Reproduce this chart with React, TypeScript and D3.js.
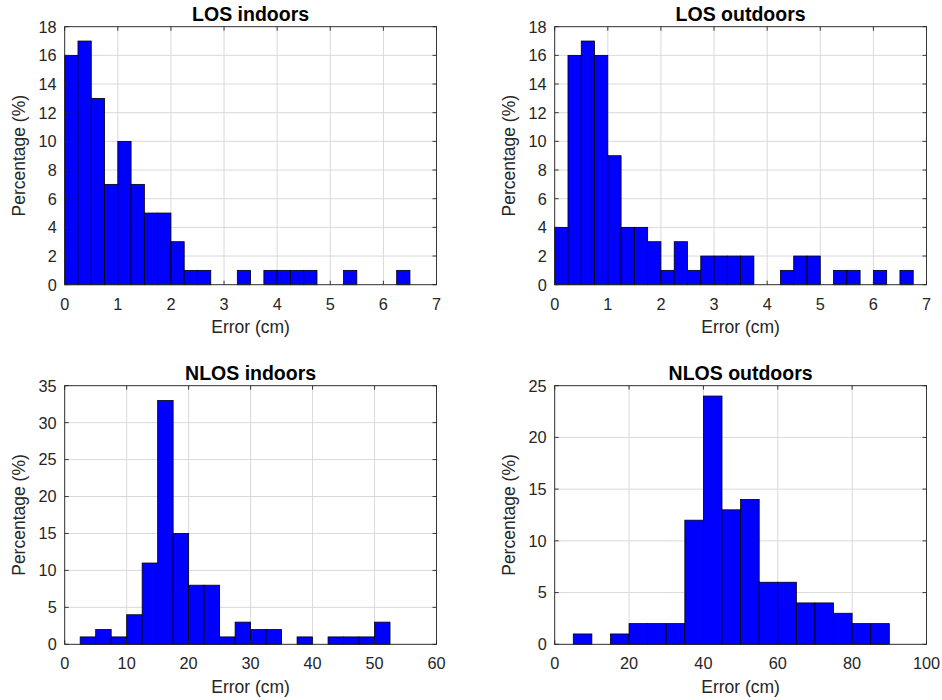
import React from "react";
import * as d3 from "d3";

// ---- Data (percentages per histogram bin) ----
const losIndoorsCounts = [16, 17, 13, 7, 10, 7, 5, 5, 3, 1, 1, 0, 0, 1, 0, 1, 1, 1, 1, 0, 0, 1, 0, 0, 0, 1];
const losIndoorsBinStart = 0;
const losIndoorsBinWidth = 0.25;

const losOutdoorsCounts = [4, 16, 17, 16, 9, 4, 4, 3, 1, 3, 1, 2, 2, 2, 2, 0, 0, 1, 2, 2, 0, 1, 1, 0, 1, 0, 1];
const losOutdoorsBinStart = 0;
const losOutdoorsBinWidth = 0.25;

const nlosIndoorsCounts = [1, 2, 1, 4, 11, 33, 15, 8, 8, 1, 3, 2, 2, 0, 1, 0, 1, 1, 1, 3];
const nlosIndoorsBinStart = 2.5;
const nlosIndoorsBinWidth = 2.5;

const nlosOutdoorsCounts = [1, 0, 1, 2, 2, 2, 12, 24, 13, 14, 6, 6, 4, 4, 3, 2, 2];
const nlosOutdoorsBinStart = 5;
const nlosOutdoorsBinWidth = 5;

const titles = ["LOS indoors", "LOS outdoors", "NLOS indoors", "NLOS outdoors"];
const xTicksLos = [0, 1, 2, 3, 4, 5, 6, 7];
const yTicksLos = [0, 2, 4, 6, 8, 10, 12, 14, 16, 18];
const xTicksNlosIn = [0, 10, 20, 30, 40, 50, 60];
const yTicksNlosIn = [0, 5, 10, 15, 20, 25, 30, 35];
const xTicksNlosOut = [0, 20, 40, 60, 80, 100];
const yTicksNlosOut = [0, 5, 10, 15, 20, 25];
const xLabel = "Error (cm)";
const yLabel = "Percentage (%)";

type Panel = {
  title: string;
  counts: number[];
  binStart: number;
  binWidth: number;
  xTicks: number[];
  yTicks: number[];
  box: { x0: number; x1: number; y0: number; y1: number };
};

const panels: Panel[] = [
  { title: titles[0], counts: losIndoorsCounts, binStart: losIndoorsBinStart, binWidth: losIndoorsBinWidth, xTicks: xTicksLos, yTicks: yTicksLos, box: { x0: 64.7, x1: 436.5, y0: 26.7, y1: 284.7 } },
  { title: titles[1], counts: losOutdoorsCounts, binStart: losOutdoorsBinStart, binWidth: losOutdoorsBinWidth, xTicks: xTicksLos, yTicks: yTicksLos, box: { x0: 554.7, x1: 926.5, y0: 26.7, y1: 284.7 } },
  { title: titles[2], counts: nlosIndoorsCounts, binStart: nlosIndoorsBinStart, binWidth: nlosIndoorsBinWidth, xTicks: xTicksNlosIn, yTicks: yTicksNlosIn, box: { x0: 64.7, x1: 436.5, y0: 385.7, y1: 644.3 } },
  { title: titles[3], counts: nlosOutdoorsCounts, binStart: nlosOutdoorsBinStart, binWidth: nlosOutdoorsBinWidth, xTicks: xTicksNlosOut, yTicks: yTicksNlosOut, box: { x0: 554.7, x1: 926.5, y0: 385.7, y1: 644.3 } },
];

const FONT = "Arial, 'Liberation Sans', Helvetica, sans-serif";
const AXIS_COLOR = "#262626";
const GRID_COLOR = "#d9d9d9";

function HistPanel({ p }: { p: Panel }) {
  const { x0, x1, y0, y1 } = p.box;
  const x = d3.scaleLinear().domain(d3.extent(p.xTicks) as [number, number]).range([x0, x1]);
  const y = d3.scaleLinear().domain(d3.extent(p.yTicks) as [number, number]).range([y1, y0]);
  const tickLen = 4;
  return (
    <g>
      {/* grid */}
      {p.xTicks.map((t) => (
        <line key={"gx" + t} x1={x(t)} x2={x(t)} y1={y0} y2={y1} stroke={GRID_COLOR} strokeWidth={1} />
      ))}
      {p.yTicks.map((t) => (
        <line key={"gy" + t} x1={x0} x2={x1} y1={y(t)} y2={y(t)} stroke={GRID_COLOR} strokeWidth={1} />
      ))}
      {/* bars */}
      {p.counts.map((c, i) => {
        const a = p.binStart + i * p.binWidth;
        const b = a + p.binWidth;
        return (
          <rect key={"b" + i} x={x(a)} y={y(c)} width={x(b) - x(a)} height={y(0) - y(c)} fill="#0000ff" stroke="#000" strokeWidth={0.8} />
        );
      })}
      {/* box */}
      <rect x={x0} y={y0} width={x1 - x0} height={y1 - y0} fill="none" stroke={AXIS_COLOR} strokeWidth={0.9} />
      {/* ticks */}
      {p.xTicks.map((t) => (
        <g key={"tx" + t}>
          <line x1={x(t)} x2={x(t)} y1={y1} y2={y1 - tickLen} stroke={AXIS_COLOR} strokeWidth={0.9} />
          <line x1={x(t)} x2={x(t)} y1={y0} y2={y0 + tickLen} stroke={AXIS_COLOR} strokeWidth={0.9} />
          <text x={x(t)} y={y1 + 25} textAnchor="middle" fontSize={16.3} fill={AXIS_COLOR} fontFamily={FONT}>{t}</text>
        </g>
      ))}
      {p.yTicks.map((t) => (
        <g key={"ty" + t}>
          <line x1={x0} x2={x0 + tickLen} y1={y(t)} y2={y(t)} stroke={AXIS_COLOR} strokeWidth={0.9} />
          <line x1={x1} x2={x1 - tickLen} y1={y(t)} y2={y(t)} stroke={AXIS_COLOR} strokeWidth={0.9} />
          <text x={x0 - 8} y={y(t)} dy="0.36em" textAnchor="end" fontSize={16.3} fill={AXIS_COLOR} fontFamily={FONT}>{t}</text>
        </g>
      ))}
      {/* labels */}
      <text x={(x0 + x1) / 2} y={y1 + 48.5} textAnchor="middle" fontSize={17.5} fill={AXIS_COLOR} fontFamily={FONT}>{xLabel}</text>
      <text transform={`translate(${x0 - 40},${(y0 + y1) / 2}) rotate(-90)`} textAnchor="middle" fontSize={17.5} fill={AXIS_COLOR} fontFamily={FONT}>{yLabel}</text>
      <text x={(x0 + x1) / 2} y={y0 - 5.5} textAnchor="middle" fontSize={19.5} fontWeight="bold" fill="#000" fontFamily={FONT}>{p.title}</text>
    </g>
  );
}

export default function App() {
  return (
    <>
      <style>{`body{margin:0;background:#fff}`}</style>
      <svg width={942} height={700} viewBox="0 0 942 700" style={{ display: "block", background: "#fff" }}>
        {panels.map((p) => (
          <HistPanel key={p.title} p={p} />
        ))}
      </svg>
    </>
  );
}
